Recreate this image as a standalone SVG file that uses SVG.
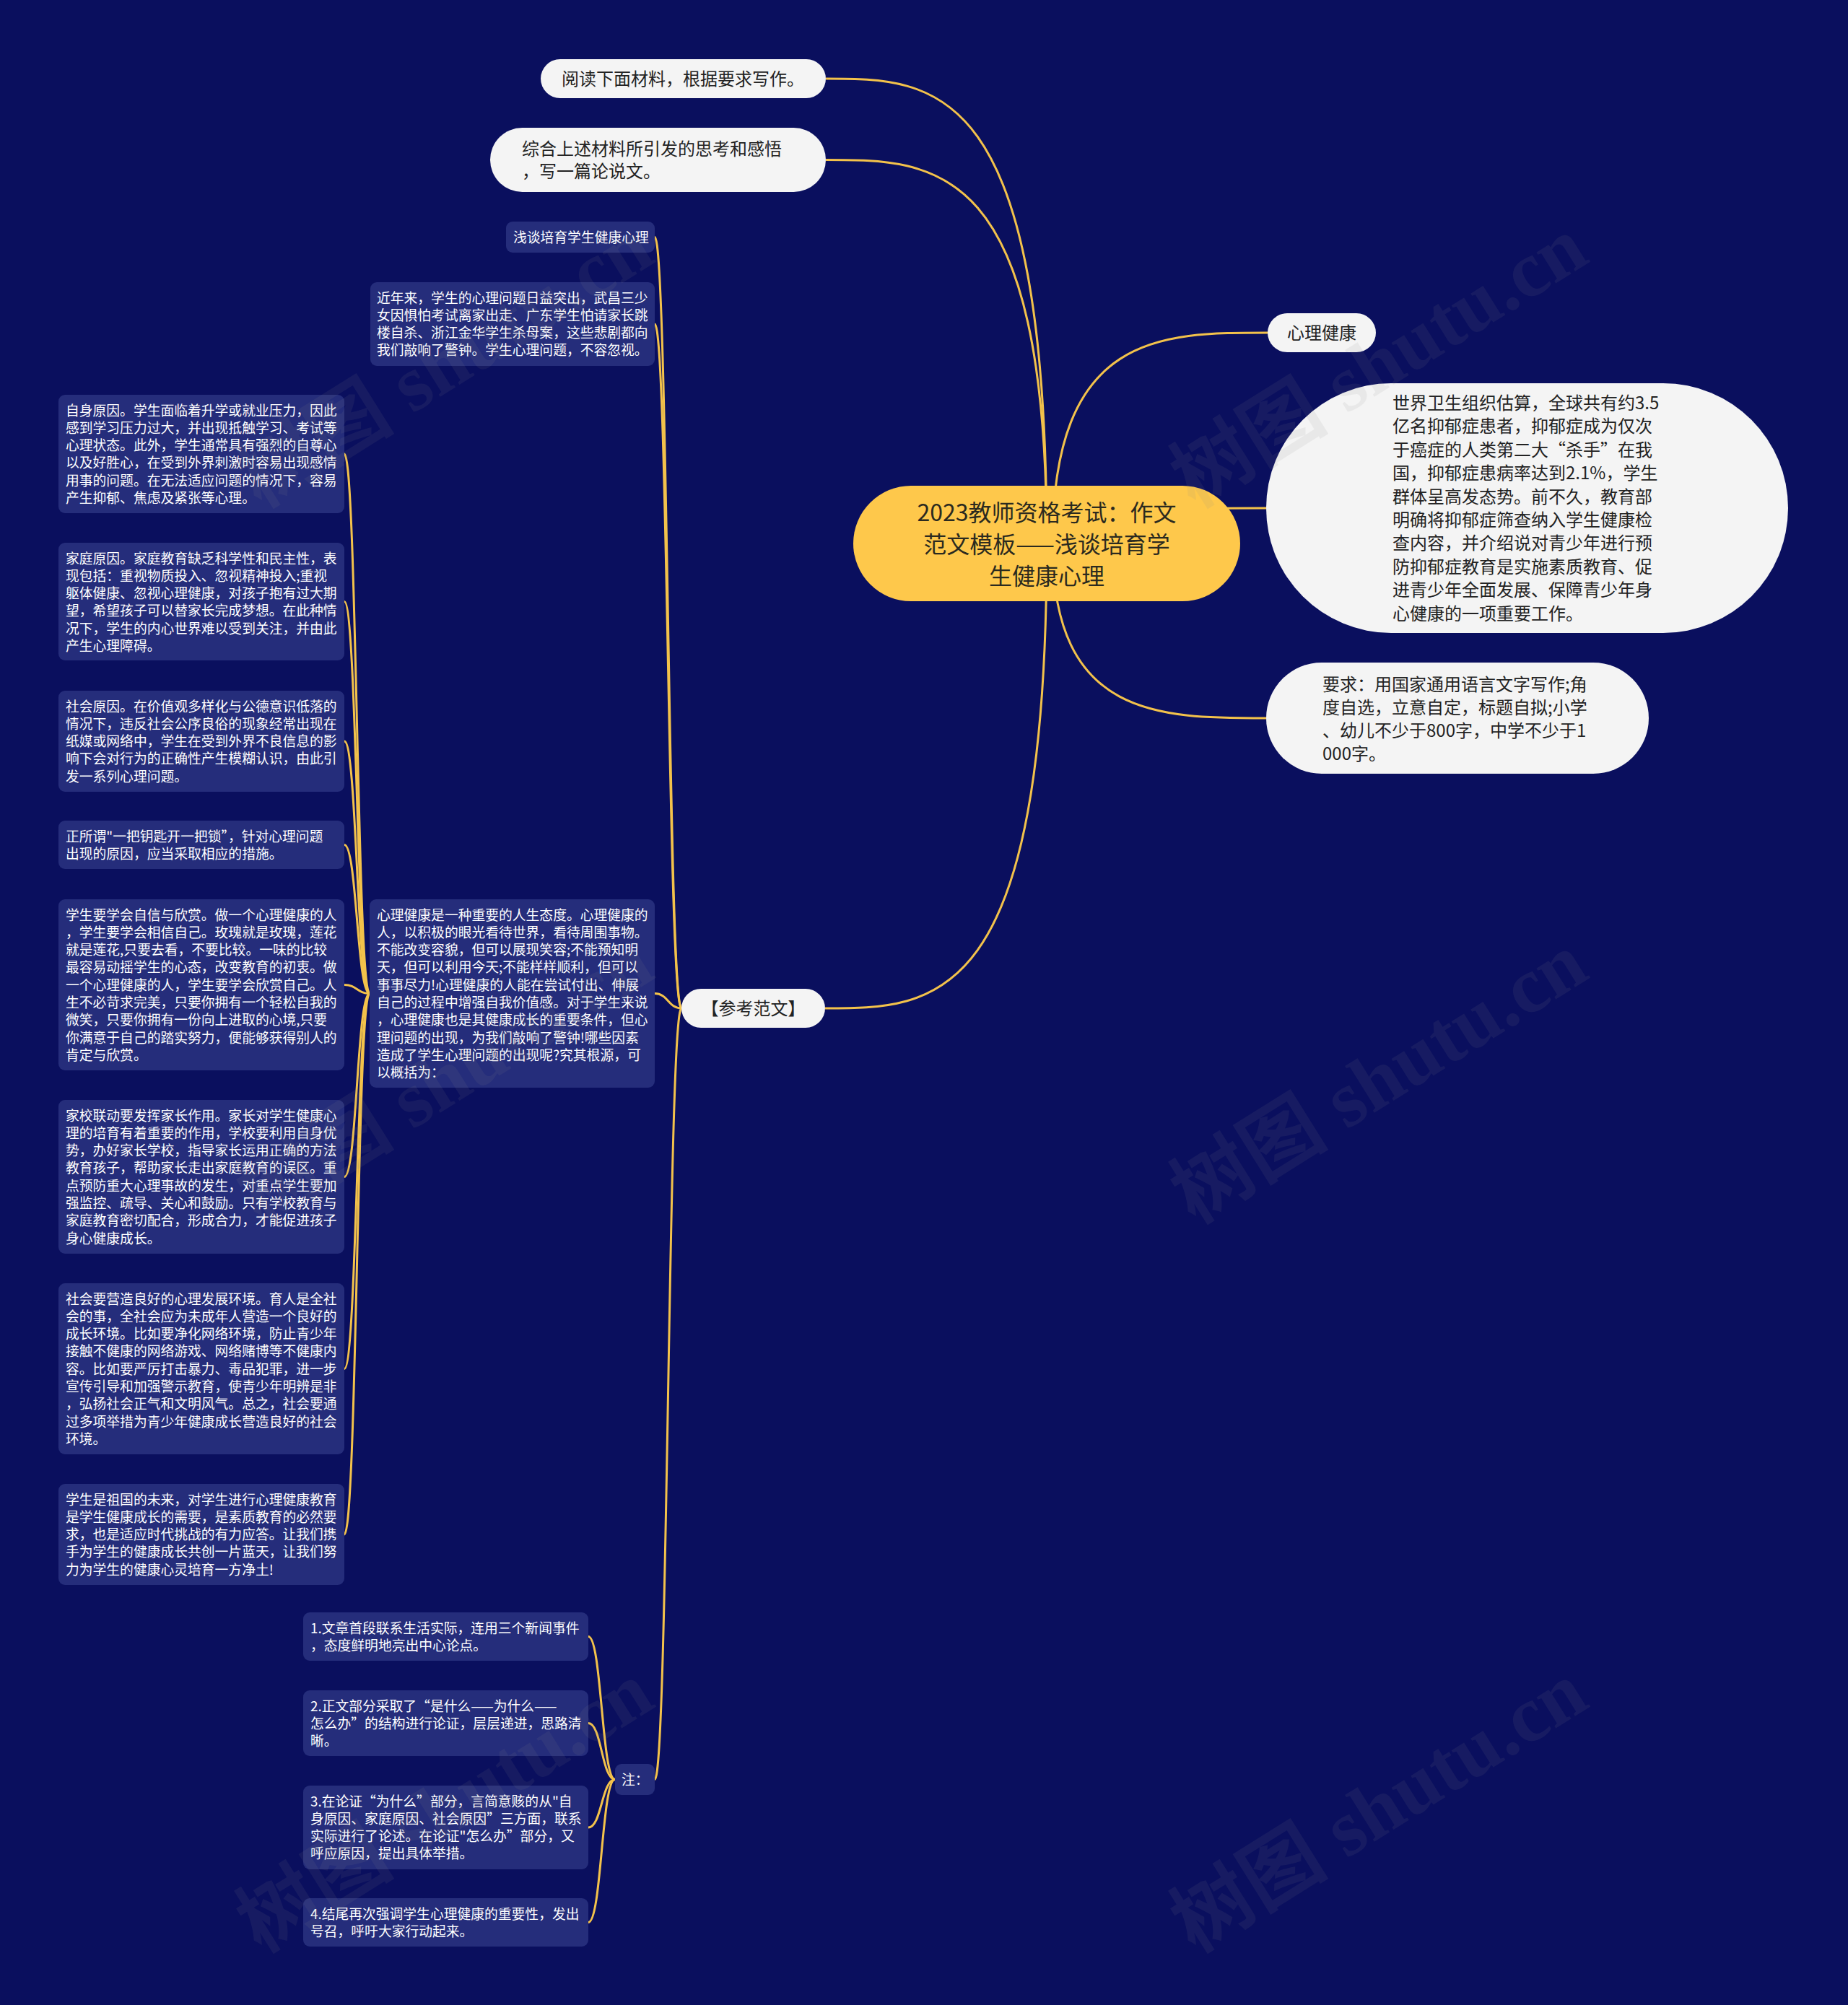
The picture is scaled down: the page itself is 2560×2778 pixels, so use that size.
<svg xmlns="http://www.w3.org/2000/svg" width="2560" height="2778" viewBox="0 0 2560 2778">
<style>
text{font-family:"Noto Sans CJK SC","Noto Sans",sans-serif}
.dk{fill:#252d7b}
.wt{fill:#f4f4f4}
.td{font-size:18.8px;fill:#ffffff}
.tw{font-size:24px;fill:#222222}
.tr{font-size:32px;fill:#2b2a1f}
.edge{fill:none;stroke:#f3c24b;stroke-width:3}
.wm{font-family:"Liberation Serif","Noto Sans CJK SC",serif;font-size:110px;font-weight:bold;fill:#8a8a8a;opacity:0.1}
</style>
<rect x="0" y="0" width="2560" height="2778" fill="#0a0f5e"/>
<g id="connectors">
<path class="edge" d="M1450 754 C1450 109 1297 109 1144 109"/>
<path class="edge" d="M1450 754 C1450 221.5 1297 221.5 1144 221.5"/>
<path class="edge" d="M1450 754 C1450 1397 1296.5 1397 1143 1397"/>
<path class="edge" d="M1458 754 C1458 461 1607 461 1756 461"/>
<path class="edge" d="M1458 754 C1458 704 1606 704 1754 704"/>
<path class="edge" d="M1458 754 C1458 995 1606 995 1754 995"/>
<path class="edge" d="M944 1397 C925.5 1397 925.5 328.5 907 328.5"/>
<path class="edge" d="M944 1397 C925.5 1397 925.5 449 907 449"/>
<path class="edge" d="M944 1397 C925.5 1397 925.5 1376.5 907 1376.5"/>
<path class="edge" d="M944 1397 C925.5 1397 925.5 2465.5 907 2465.5"/>
<path class="edge" d="M512 1376.5 C494.5 1376.5 494.5 629 477 629"/>
<path class="edge" d="M512 1376.5 C494.5 1376.5 494.5 833.5 477 833.5"/>
<path class="edge" d="M512 1376.5 C494.5 1376.5 494.5 1027 477 1027"/>
<path class="edge" d="M512 1376.5 C494.5 1376.5 494.5 1170.5 477 1170.5"/>
<path class="edge" d="M512 1376.5 C494.5 1376.5 494.5 1364.5 477 1364.5"/>
<path class="edge" d="M512 1376.5 C494.5 1376.5 494.5 1630.5 477 1630.5"/>
<path class="edge" d="M512 1376.5 C494.5 1376.5 494.5 1896.5 477 1896.5"/>
<path class="edge" d="M512 1376.5 C494.5 1376.5 494.5 2126 477 2126"/>
<path class="edge" d="M852 2465.5 C833.5 2465.5 833.5 2267.5 815 2267.5"/>
<path class="edge" d="M852 2465.5 C833.5 2465.5 833.5 2387.5 815 2387.5"/>
<path class="edge" d="M852 2465.5 C833.5 2465.5 833.5 2532 815 2532"/>
<path class="edge" d="M852 2465.5 C833.5 2465.5 833.5 2663.5 815 2663.5"/>
</g>
<g id="root">
<rect x="1182" y="673" width="536" height="160" rx="80" fill="#fec84b"/>
<text class="tr" text-anchor="middle"><tspan x="1450" y="722">2023教师资格考试：作文</tspan><tspan x="1450" y="766">范文模板——浅谈培育学</tspan><tspan x="1450" y="810">生健康心理</tspan></text>
</g>
<g id="n1">
<rect class="wt" x="749" y="82" width="395" height="54" rx="27"/>
<text class="tw" x="778" y="118">阅读下面材料，根据要求写作。</text>
</g>
<g id="n2">
<rect class="wt" x="679" y="177" width="465" height="89" rx="44.5"/>
<text class="tw"><tspan x="723" y="215">综合上述材料所引发的思考和感悟</tspan><tspan x="723" y="246">，写一篇论说文。</tspan></text>
</g>
<g id="r1">
<rect class="wt" x="1756" y="434" width="150" height="54" rx="27"/>
<text class="tw" x="1831" y="470" text-anchor="middle">心理健康</text>
</g>
<g id="r2">
<rect class="wt" x="1754" y="531" width="723" height="346" rx="173"/>
<text class="tw"><tspan x="1929" y="567">世界卫生组织估算，全球共有约3.5</tspan><tspan x="1929" y="599.4">亿名抑郁症患者，抑郁症成为仅次</tspan><tspan x="1929" y="631.8">于癌症的人类第二大“杀手”在我</tspan><tspan x="1929" y="664.2">国，抑郁症患病率达到2.1%，学生</tspan><tspan x="1929" y="696.6">群体呈高发态势。前不久，教育部</tspan><tspan x="1929" y="729">明确将抑郁症筛查纳入学生健康检</tspan><tspan x="1929" y="761.4">查内容，并介绍说对青少年进行预</tspan><tspan x="1929" y="793.8">防抑郁症教育是实施素质教育、促</tspan><tspan x="1929" y="826.2">进青少年全面发展、保障青少年身</tspan><tspan x="1929" y="858.6">心健康的一项重要工作。</tspan></text>
</g>
<g id="r3">
<rect class="wt" x="1754" y="918" width="530" height="154" rx="77"/>
<text class="tw"><tspan x="1832" y="957">要求：用国家通用语言文字写作;角</tspan><tspan x="1832" y="989">度自选，立意自定，标题自拟;小学</tspan><tspan x="1832" y="1021">、幼儿不少于800字，中学不少于1</tspan><tspan x="1832" y="1053">000字。</tspan></text>
</g>
<g id="ref">
<rect class="wt" x="944" y="1370" width="199" height="54" rx="27"/>
<text class="tw" x="1043.5" y="1406" text-anchor="middle">【参考范文】</text>
</g>
<g id="n3">
<rect class="dk" x="701" y="307" width="206" height="43" rx="9"/>
<text class="td" x="711" y="335.6">浅谈培育学生健康心理</text>
</g>
<g id="n4">
<rect class="dk" x="513" y="391" width="394" height="116" rx="9"/>
<text class="td"><tspan x="522" y="419.5">近年来，学生的心理问题日益突出，武昌三少</tspan><tspan x="522" y="443.8">女因惧怕考试离家出走、广东学生怕请家长跳</tspan><tspan x="522" y="468.1">楼自杀、浙江金华学生杀母案，这些悲剧都向</tspan><tspan x="522" y="492.4">我们敲响了警钟。学生心理问题，不容忽视。</tspan></text>
</g>
<g id="m">
<rect class="dk" x="512" y="1246" width="395" height="261" rx="9"/>
<text class="td"><tspan x="522" y="1274.5">心理健康是一种重要的人生态度。心理健康的</tspan><tspan x="522" y="1298.8">人，以积极的眼光看待世界，看待周围事物。</tspan><tspan x="522" y="1323.1">不能改变容貌，但可以展现笑容;不能预知明</tspan><tspan x="522" y="1347.4">天，但可以利用今天;不能样样顺利，但可以</tspan><tspan x="522" y="1371.7">事事尽力!心理健康的人能在尝试付出、伸展</tspan><tspan x="522" y="1396">自己的过程中增强自我价值感。对于学生来说</tspan><tspan x="522" y="1420.3">，心理健康也是其健康成长的重要条件，但心</tspan><tspan x="522" y="1444.6">理问题的出现，为我们敲响了警钟!哪些因素</tspan><tspan x="522" y="1468.9">造成了学生心理问题的出现呢?究其根源，可</tspan><tspan x="522" y="1493.2">以概括为：</tspan></text>
</g>
<g id="zhu">
<rect class="dk" x="852" y="2444" width="55" height="43" rx="9"/>
<text class="td" x="861" y="2472.5">注：</text>
</g>
<g id="l1">
<rect class="dk" x="81" y="547" width="396" height="164" rx="9"/>
<text class="td"><tspan x="91" y="575.5">自身原因。学生面临着升学或就业压力，因此</tspan><tspan x="91" y="599.8">感到学习压力过大，并出现抵触学习、考试等</tspan><tspan x="91" y="624.1">心理状态。此外，学生通常具有强烈的自尊心</tspan><tspan x="91" y="648.4">以及好胜心，在受到外界刺激时容易出现感情</tspan><tspan x="91" y="672.7">用事的问题。在无法适应问题的情况下，容易</tspan><tspan x="91" y="697">产生抑郁、焦虑及紧张等心理。</tspan></text>
</g>
<g id="l2">
<rect class="dk" x="81" y="752" width="396" height="163" rx="9"/>
<text class="td"><tspan x="91" y="780.5">家庭原因。家庭教育缺乏科学性和民主性，表</tspan><tspan x="91" y="804.8">现包括：重视物质投入、忽视精神投入;重视</tspan><tspan x="91" y="829.1">躯体健康、忽视心理健康，对孩子抱有过大期</tspan><tspan x="91" y="853.4">望，希望孩子可以替家长完成梦想。在此种情</tspan><tspan x="91" y="877.7">况下，学生的内心世界难以受到关注，并由此</tspan><tspan x="91" y="902">产生心理障碍。</tspan></text>
</g>
<g id="l3">
<rect class="dk" x="81" y="957" width="396" height="140" rx="9"/>
<text class="td"><tspan x="91" y="985.5">社会原因。在价值观多样化与公德意识低落的</tspan><tspan x="91" y="1009.8">情况下，违反社会公序良俗的现象经常出现在</tspan><tspan x="91" y="1034.1">纸媒或网络中，学生在受到外界不良信息的影</tspan><tspan x="91" y="1058.4">响下会对行为的正确性产生模糊认识，由此引</tspan><tspan x="91" y="1082.7">发一系列心理问题。</tspan></text>
</g>
<g id="l4">
<rect class="dk" x="81" y="1137" width="396" height="67" rx="9"/>
<text class="td"><tspan x="91" y="1165.5">正所谓"一把钥匙开一把锁”，针对心理问题</tspan><tspan x="91" y="1189.8">出现的原因，应当采取相应的措施。</tspan></text>
</g>
<g id="l5">
<rect class="dk" x="81" y="1246" width="396" height="237" rx="9"/>
<text class="td"><tspan x="91" y="1274.5">学生要学会自信与欣赏。做一个心理健康的人</tspan><tspan x="91" y="1298.8">，学生要学会相信自己。玫瑰就是玫瑰，莲花</tspan><tspan x="91" y="1323.1">就是莲花,只要去看，不要比较。一味的比较</tspan><tspan x="91" y="1347.4">最容易动摇学生的心态，改变教育的初衷。做</tspan><tspan x="91" y="1371.7">一个心理健康的人，学生要学会欣赏自己。人</tspan><tspan x="91" y="1396">生不必苛求完美，只要你拥有一个轻松自我的</tspan><tspan x="91" y="1420.3">微笑，只要你拥有一份向上进取的心境,只要</tspan><tspan x="91" y="1444.6">你满意于自己的踏实努力，便能够获得别人的</tspan><tspan x="91" y="1468.9">肯定与欣赏。</tspan></text>
</g>
<g id="l6">
<rect class="dk" x="81" y="1524" width="396" height="213" rx="9"/>
<text class="td"><tspan x="91" y="1552.5">家校联动要发挥家长作用。家长对学生健康心</tspan><tspan x="91" y="1576.8">理的培育有着重要的作用，学校要利用自身优</tspan><tspan x="91" y="1601.1">势，办好家长学校，指导家长运用正确的方法</tspan><tspan x="91" y="1625.4">教育孩子，帮助家长走出家庭教育的误区。重</tspan><tspan x="91" y="1649.7">点预防重大心理事故的发生，对重点学生要加</tspan><tspan x="91" y="1674">强监控、疏导、关心和鼓励。只有学校教育与</tspan><tspan x="91" y="1698.3">家庭教育密切配合，形成合力，才能促进孩子</tspan><tspan x="91" y="1722.6">身心健康成长。</tspan></text>
</g>
<g id="l7">
<rect class="dk" x="81" y="1778" width="396" height="237" rx="9"/>
<text class="td"><tspan x="91" y="1806.5">社会要营造良好的心理发展环境。育人是全社</tspan><tspan x="91" y="1830.8">会的事，全社会应为未成年人营造一个良好的</tspan><tspan x="91" y="1855.1">成长环境。比如要净化网络环境，防止青少年</tspan><tspan x="91" y="1879.4">接触不健康的网络游戏、网络赌博等不健康内</tspan><tspan x="91" y="1903.7">容。比如要严厉打击暴力、毒品犯罪，进一步</tspan><tspan x="91" y="1928">宣传引导和加强警示教育，使青少年明辨是非</tspan><tspan x="91" y="1952.3">，弘扬社会正气和文明风气。总之，社会要通</tspan><tspan x="91" y="1976.6">过多项举措为青少年健康成长营造良好的社会</tspan><tspan x="91" y="2000.9">环境。</tspan></text>
</g>
<g id="l8">
<rect class="dk" x="81" y="2056" width="396" height="140" rx="9"/>
<text class="td"><tspan x="91" y="2084.5">学生是祖国的未来，对学生进行心理健康教育</tspan><tspan x="91" y="2108.8">是学生健康成长的需要，是素质教育的必然要</tspan><tspan x="91" y="2133.1">求，也是适应时代挑战的有力应答。让我们携</tspan><tspan x="91" y="2157.4">手为学生的健康成长共创一片蓝天，让我们努</tspan><tspan x="91" y="2181.7">力为学生的健康心灵培育一方净土!</tspan></text>
</g>
<g id="z1">
<rect class="dk" x="420" y="2234" width="395" height="67" rx="9"/>
<text class="td"><tspan x="430" y="2262.5">1.文章首段联系生活实际，连用三个新闻事件</tspan><tspan x="430" y="2286.8">，态度鲜明地亮出中心论点。</tspan></text>
</g>
<g id="z2">
<rect class="dk" x="420" y="2342" width="395" height="91" rx="9"/>
<text class="td"><tspan x="430" y="2370.5">2.正文部分采取了“是什么——为什么——</tspan><tspan x="430" y="2394.8">怎么办”的结构进行论证，层层递进，思路清</tspan><tspan x="430" y="2419.1">晰。</tspan></text>
</g>
<g id="z3">
<rect class="dk" x="420" y="2474" width="395" height="116" rx="9"/>
<text class="td"><tspan x="430" y="2502.5">3.在论证“为什么”部分，言简意赅的从"自</tspan><tspan x="430" y="2526.8">身原因、家庭原因、社会原因”三方面，联系</tspan><tspan x="430" y="2551.1">实际进行了论述。在论证"怎么办”部分，又</tspan><tspan x="430" y="2575.4">呼应原因，提出具体举措。</tspan></text>
</g>
<g id="z4">
<rect class="dk" x="420" y="2630" width="395" height="67" rx="9"/>
<text class="td"><tspan x="430" y="2658.5">4.结尾再次强调学生心理健康的重要性，发出</tspan><tspan x="430" y="2682.8">号召，呼吁大家行动起来。</tspan></text>
</g>
<g id="watermark">
<text class="wm" transform="translate(1655 705) rotate(-32)">树图 shutu.cn</text>
<text class="wm" transform="translate(1655 1697) rotate(-32)">树图 shutu.cn</text>
<text class="wm" transform="translate(1655 2707) rotate(-32)">树图 shutu.cn</text>
<text class="wm" transform="translate(361 705) rotate(-32)">树图 shutu.cn</text>
<text class="wm" transform="translate(361 1697) rotate(-32)">树图 shutu.cn</text>
<text class="wm" transform="translate(361 2707) rotate(-32)">树图 shutu.cn</text>
</g>
</svg>
